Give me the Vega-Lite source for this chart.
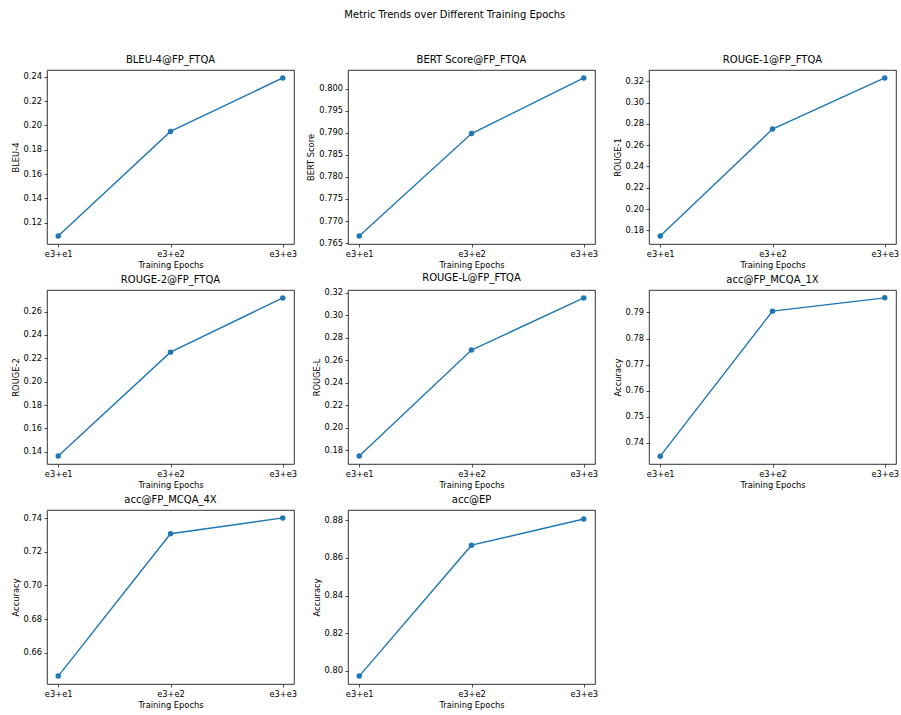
{
  "$schema": "https://vega.github.io/schema/vega-lite/v6.json",
  "padding": {"left": 10, "top": 9, "right": 4, "bottom": 4},
  "title": {"text": "Metric Trends over Different Training Epochs", "anchor": "middle", "frame": "bounds", "fontSize": 10, "offset": 35},
  "data": {"values": [
    {"metric": "BLEU-4@FP_FTQA", "epoch": "e3+e1", "value": 0.109},
    {"metric": "BLEU-4@FP_FTQA", "epoch": "e3+e2", "value": 0.195},
    {"metric": "BLEU-4@FP_FTQA", "epoch": "e3+e3", "value": 0.239},
    {"metric": "BERT Score@FP_FTQA", "epoch": "e3+e1", "value": 0.7666},
    {"metric": "BERT Score@FP_FTQA", "epoch": "e3+e2", "value": 0.7898},
    {"metric": "BERT Score@FP_FTQA", "epoch": "e3+e3", "value": 0.8024},
    {"metric": "ROUGE-1@FP_FTQA", "epoch": "e3+e1", "value": 0.1747},
    {"metric": "ROUGE-1@FP_FTQA", "epoch": "e3+e2", "value": 0.2751},
    {"metric": "ROUGE-1@FP_FTQA", "epoch": "e3+e3", "value": 0.3231},
    {"metric": "ROUGE-2@FP_FTQA", "epoch": "e3+e1", "value": 0.1363},
    {"metric": "ROUGE-2@FP_FTQA", "epoch": "e3+e2", "value": 0.2253},
    {"metric": "ROUGE-2@FP_FTQA", "epoch": "e3+e3", "value": 0.2717},
    {"metric": "ROUGE-L@FP_FTQA", "epoch": "e3+e1", "value": 0.175},
    {"metric": "ROUGE-L@FP_FTQA", "epoch": "e3+e2", "value": 0.269},
    {"metric": "ROUGE-L@FP_FTQA", "epoch": "e3+e3", "value": 0.3153},
    {"metric": "acc@FP_MCQA_1X", "epoch": "e3+e1", "value": 0.7349},
    {"metric": "acc@FP_MCQA_1X", "epoch": "e3+e2", "value": 0.7905},
    {"metric": "acc@FP_MCQA_1X", "epoch": "e3+e3", "value": 0.7956},
    {"metric": "acc@FP_MCQA_4X", "epoch": "e3+e1", "value": 0.6462},
    {"metric": "acc@FP_MCQA_4X", "epoch": "e3+e2", "value": 0.7307},
    {"metric": "acc@FP_MCQA_4X", "epoch": "e3+e3", "value": 0.7401},
    {"metric": "acc@EP", "epoch": "e3+e1", "value": 0.7972},
    {"metric": "acc@EP", "epoch": "e3+e2", "value": 0.8668},
    {"metric": "acc@EP", "epoch": "e3+e3", "value": 0.8807}
  ]},
  "columns": 3,
  "spacing": {"column": 54, "row": 46},
  "bounds": "flush",
  "concat": [
    {
      "title": "BLEU-4@FP_FTQA", "width": 247, "height": 174,
      "transform": [{"filter": "datum.metric === 'BLEU-4@FP_FTQA'"}],
      "mark": {"type": "line", "color": "#1f77b4", "strokeWidth": 1.4, "point": {"filled": true, "size": 30, "color": "#1f77b4", "opacity": 1}},
      "encoding": {
        "x": {"field": "epoch", "type": "ordinal", "scale": {"type": "point", "padding": 0.1, "domain": ["e3+e1", "e3+e2", "e3+e3"]}, "axis": {"title": "Training Epochs", "labelAngle": 0}},
        "y": {"field": "value", "type": "quantitative", "scale": {"domain": [0.1025, 0.2455], "nice": false, "zero": false}, "axis": {"title": "BLEU-4", "values": [0.12, 0.14, 0.16, 0.18, 0.20, 0.22, 0.24], "format": ".2f"}}
      }
    },
    {
      "title": "BERT Score@FP_FTQA", "width": 247, "height": 174,
      "transform": [{"filter": "datum.metric === 'BERT Score@FP_FTQA'"}],
      "mark": {"type": "line", "color": "#1f77b4", "strokeWidth": 1.4, "point": {"filled": true, "size": 30, "color": "#1f77b4", "opacity": 1}},
      "encoding": {
        "x": {"field": "epoch", "type": "ordinal", "scale": {"type": "point", "padding": 0.1, "domain": ["e3+e1", "e3+e2", "e3+e3"]}, "axis": {"title": "Training Epochs", "labelAngle": 0}},
        "y": {"field": "value", "type": "quantitative", "scale": {"domain": [0.7648, 0.8042], "nice": false, "zero": false}, "axis": {"title": "BERT Score", "values": [0.765, 0.770, 0.775, 0.780, 0.785, 0.790, 0.795, 0.800], "format": ".3f"}}
      }
    },
    {
      "title": "ROUGE-1@FP_FTQA", "width": 247, "height": 174,
      "transform": [{"filter": "datum.metric === 'ROUGE-1@FP_FTQA'"}],
      "mark": {"type": "line", "color": "#1f77b4", "strokeWidth": 1.4, "point": {"filled": true, "size": 30, "color": "#1f77b4", "opacity": 1}},
      "encoding": {
        "x": {"field": "epoch", "type": "ordinal", "scale": {"type": "point", "padding": 0.1, "domain": ["e3+e1", "e3+e2", "e3+e3"]}, "axis": {"title": "Training Epochs", "labelAngle": 0}},
        "y": {"field": "value", "type": "quantitative", "scale": {"domain": [0.1673, 0.3305], "nice": false, "zero": false}, "axis": {"title": "ROUGE-1", "values": [0.18, 0.20, 0.22, 0.24, 0.26, 0.28, 0.30, 0.32], "format": ".2f"}}
      }
    },
    {
      "title": "ROUGE-2@FP_FTQA", "width": 247, "height": 174,
      "transform": [{"filter": "datum.metric === 'ROUGE-2@FP_FTQA'"}],
      "mark": {"type": "line", "color": "#1f77b4", "strokeWidth": 1.4, "point": {"filled": true, "size": 30, "color": "#1f77b4", "opacity": 1}},
      "encoding": {
        "x": {"field": "epoch", "type": "ordinal", "scale": {"type": "point", "padding": 0.1, "domain": ["e3+e1", "e3+e2", "e3+e3"]}, "axis": {"title": "Training Epochs", "labelAngle": 0}},
        "y": {"field": "value", "type": "quantitative", "scale": {"domain": [0.1295, 0.2785], "nice": false, "zero": false}, "axis": {"title": "ROUGE-2", "values": [0.14, 0.16, 0.18, 0.20, 0.22, 0.24, 0.26], "format": ".2f"}}
      }
    },
    {
      "title": "ROUGE-L@FP_FTQA", "width": 247, "height": 174,
      "transform": [{"filter": "datum.metric === 'ROUGE-L@FP_FTQA'"}],
      "mark": {"type": "line", "color": "#1f77b4", "strokeWidth": 1.4, "point": {"filled": true, "size": 30, "color": "#1f77b4", "opacity": 1}},
      "encoding": {
        "x": {"field": "epoch", "type": "ordinal", "scale": {"type": "point", "padding": 0.1, "domain": ["e3+e1", "e3+e2", "e3+e3"]}, "axis": {"title": "Training Epochs", "labelAngle": 0}},
        "y": {"field": "value", "type": "quantitative", "scale": {"domain": [0.168, 0.3223], "nice": false, "zero": false}, "axis": {"title": "ROUGE-L", "values": [0.18, 0.20, 0.22, 0.24, 0.26, 0.28, 0.30, 0.32], "format": ".2f"}}
      }
    },
    {
      "title": "acc@FP_MCQA_1X", "width": 247, "height": 174,
      "transform": [{"filter": "datum.metric === 'acc@FP_MCQA_1X'"}],
      "mark": {"type": "line", "color": "#1f77b4", "strokeWidth": 1.4, "point": {"filled": true, "size": 30, "color": "#1f77b4", "opacity": 1}},
      "encoding": {
        "x": {"field": "epoch", "type": "ordinal", "scale": {"type": "point", "padding": 0.1, "domain": ["e3+e1", "e3+e2", "e3+e3"]}, "axis": {"title": "Training Epochs", "labelAngle": 0}},
        "y": {"field": "value", "type": "quantitative", "scale": {"domain": [0.7319, 0.7986], "nice": false, "zero": false}, "axis": {"title": "Accuracy", "values": [0.74, 0.75, 0.76, 0.77, 0.78, 0.79], "format": ".2f"}}
      }
    },
    {
      "title": "acc@FP_MCQA_4X", "width": 247, "height": 174,
      "transform": [{"filter": "datum.metric === 'acc@FP_MCQA_4X'"}],
      "mark": {"type": "line", "color": "#1f77b4", "strokeWidth": 1.4, "point": {"filled": true, "size": 30, "color": "#1f77b4", "opacity": 1}},
      "encoding": {
        "x": {"field": "epoch", "type": "ordinal", "scale": {"type": "point", "padding": 0.1, "domain": ["e3+e1", "e3+e2", "e3+e3"]}, "axis": {"title": "Training Epochs", "labelAngle": 0}},
        "y": {"field": "value", "type": "quantitative", "scale": {"domain": [0.6415, 0.7448], "nice": false, "zero": false}, "axis": {"title": "Accuracy", "values": [0.66, 0.68, 0.70, 0.72, 0.74], "format": ".2f"}}
      }
    },
    {
      "title": "acc@EP", "width": 247, "height": 174,
      "transform": [{"filter": "datum.metric === 'acc@EP'"}],
      "mark": {"type": "line", "color": "#1f77b4", "strokeWidth": 1.4, "point": {"filled": true, "size": 30, "color": "#1f77b4", "opacity": 1}},
      "encoding": {
        "x": {"field": "epoch", "type": "ordinal", "scale": {"type": "point", "padding": 0.1, "domain": ["e3+e1", "e3+e2", "e3+e3"]}, "axis": {"title": "Training Epochs", "labelAngle": 0}},
        "y": {"field": "value", "type": "quantitative", "scale": {"domain": [0.793, 0.8855], "nice": false, "zero": false}, "axis": {"title": "Accuracy", "values": [0.80, 0.82, 0.84, 0.86, 0.88], "format": ".2f"}}
      }
    }
  ],
  "config": {
    "font": "DejaVu Sans",
    "background": "#ffffff",
    "view": {"stroke": "#000000", "strokeWidth": 0.8},
    "axis": {"domain": false, "grid": false, "tickColor": "#000000", "tickSize": 3, "tickWidth": 0.7, "labelColor": "#000000", "labelFont": "DejaVu Sans", "labelFontSize": 8.3, "labelPadding": 2.5, "titleFont": "DejaVu Sans", "titleFontSize": 8.3, "titleFontWeight": "normal", "titleColor": "#000000", "titlePadding": 3},
    "title": {"font": "DejaVu Sans", "fontSize": 10, "fontWeight": "normal", "color": "#000000", "offset": 5}
  }
}
